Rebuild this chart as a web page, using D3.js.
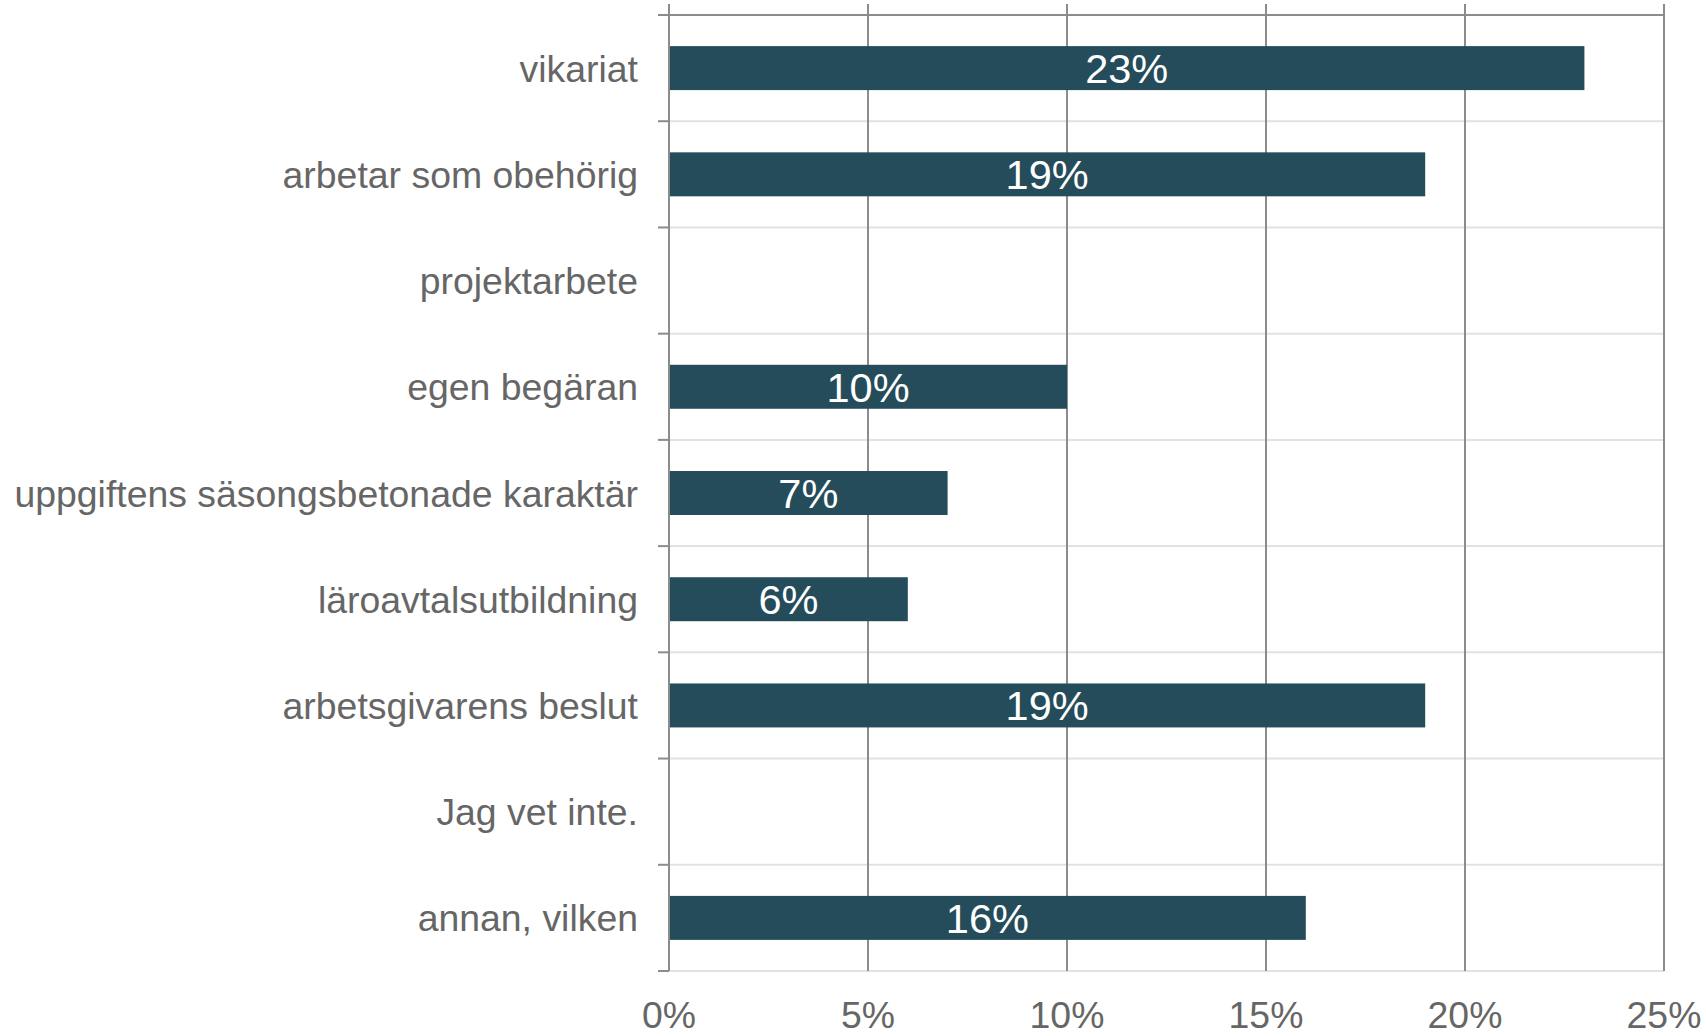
<!DOCTYPE html>
<html>
<head>
<meta charset="utf-8">
<script src="https://cdn.jsdelivr.net/npm/d3@7"></script>
<style>
  body { margin: 0; background: #fff; }
  svg text { font-family: Arial, "Liberation Sans", Helvetica, sans-serif; }
</style>
</head>
<body>
<div id="drawingArea"></div>
<script>
// categories, top to bottom
var categories = [
  "vikariat",
  "arbetar som obehörig",
  "projektarbete",
  "egen begäran",
  "uppgiftens säsongsbetonade karaktär",
  "läroavtalsutbildning",
  "arbetsgivarens beslut",
  "Jag vet inte.",
  "annan, vilken"
];

// share of answers, in percent (null = no bar)
var values = [23, 19, null, 10, 7, 6, 19, null, 16];

var xTicks = [0, 5, 10, 15, 20, 25];

function drawGraph() {

    // set the dimensions and margins of the graph
    var margin = {top: 15, right: 42, bottom: 65, left: 669},
        width = 1706 - margin.left - margin.right,
        height = 1036 - margin.top - margin.bottom;

    var data = categories.map(function(c, i) {
        return {name: c, value: values[i]};
    });

    var x = d3.scaleLinear()
        .domain([0, 25])
        .range([0, width]);

    var y = d3.scaleBand()
        .domain(categories)
        .range([0, height])
        .paddingInner(0.586)
        .paddingOuter(0.293);

    var svg = d3.select("#drawingArea").append("svg")
        .attr("width", 1706)
        .attr("height", 1036)
        .append("g")
        .attr("transform", "translate(" + margin.left + "," + margin.top + ")");

    var step = y.step();
    var rowEdges = d3.range(categories.length + 1).map(function(i) { return i * step; });

    // light row separators
    svg.selectAll(".rowline")
        .data(rowEdges.slice(1))
        .enter().append("line")
        .attr("x1", 0)
        .attr("x2", x(25))
        .attr("y1", function(d) { return d; })
        .attr("y2", function(d) { return d; })
        .attr("stroke", "#e2e2e2")
        .attr("stroke-width", 2);

    // top line
    svg.append("line")
        .attr("x1", -11)
        .attr("x2", x(25))
        .attr("y1", 0)
        .attr("y2", 0)
        .attr("stroke", "#8c8c8c")
        .attr("stroke-width", 2);

    // vertical gridlines
    svg.selectAll(".vgrid")
        .data(xTicks)
        .enter().append("line")
        .attr("x1", function(d) { return x(d); })
        .attr("x2", function(d) { return x(d); })
        .attr("y1", -11)
        .attr("y2", height)
        .attr("stroke", "#8c8c8c")
        .attr("stroke-width", 2);

    // small ticks on the left axis
    svg.selectAll(".ytick")
        .data(rowEdges.slice(1))
        .enter().append("line")
        .attr("x1", -11)
        .attr("x2", 0)
        .attr("y1", function(d) { return d; })
        .attr("y2", function(d) { return d; })
        .attr("stroke", "#8c8c8c")
        .attr("stroke-width", 2);

    // bars
    var withValue = data.filter(function(d) { return d.value != null; });

    svg.selectAll(".bar")
        .data(withValue)
        .enter().append("rect")
        .attr("class", "bar")
        .attr("x", x(0) + 1)
        .attr("y", function(d) { return y(d.name); })
        .attr("width", function(d) { return x(d.value) - x(0) - 1; })
        .attr("height", y.bandwidth())
        .attr("fill", "#244c5a");

    // value labels
    svg.selectAll(".vlabel")
        .data(withValue)
        .enter().append("text")
        .attr("x", function(d) { return (x(0) + x(d.value)) / 2; })
        .attr("y", function(d) { return y(d.name) + y.bandwidth() / 2 + 15; })
        .attr("text-anchor", "middle")
        .attr("fill", "#ffffff")
        .style("font-size", "41.5px")
        .text(function(d) { return d.value + "%"; });

    // category labels
    svg.selectAll(".clabel")
        .data(data)
        .enter().append("text")
        .attr("x", -31)
        .attr("y", function(d) { return y(d.name) + y.bandwidth() / 2 + 13.5; })
        .attr("text-anchor", "end")
        .attr("fill", "#666666")
        .style("font-size", "37.4px")
        .text(function(d) { return d.name; });

    // x tick labels
    svg.selectAll(".xlabel")
        .data(xTicks)
        .enter().append("text")
        .attr("x", function(d) { return x(d); })
        .attr("y", height + 57)
        .attr("text-anchor", "middle")
        .attr("fill", "#666666")
        .style("font-size", "37.4px")
        .text(function(d) { return d + "%"; });
}

drawGraph();
</script>
</body>
</html>
